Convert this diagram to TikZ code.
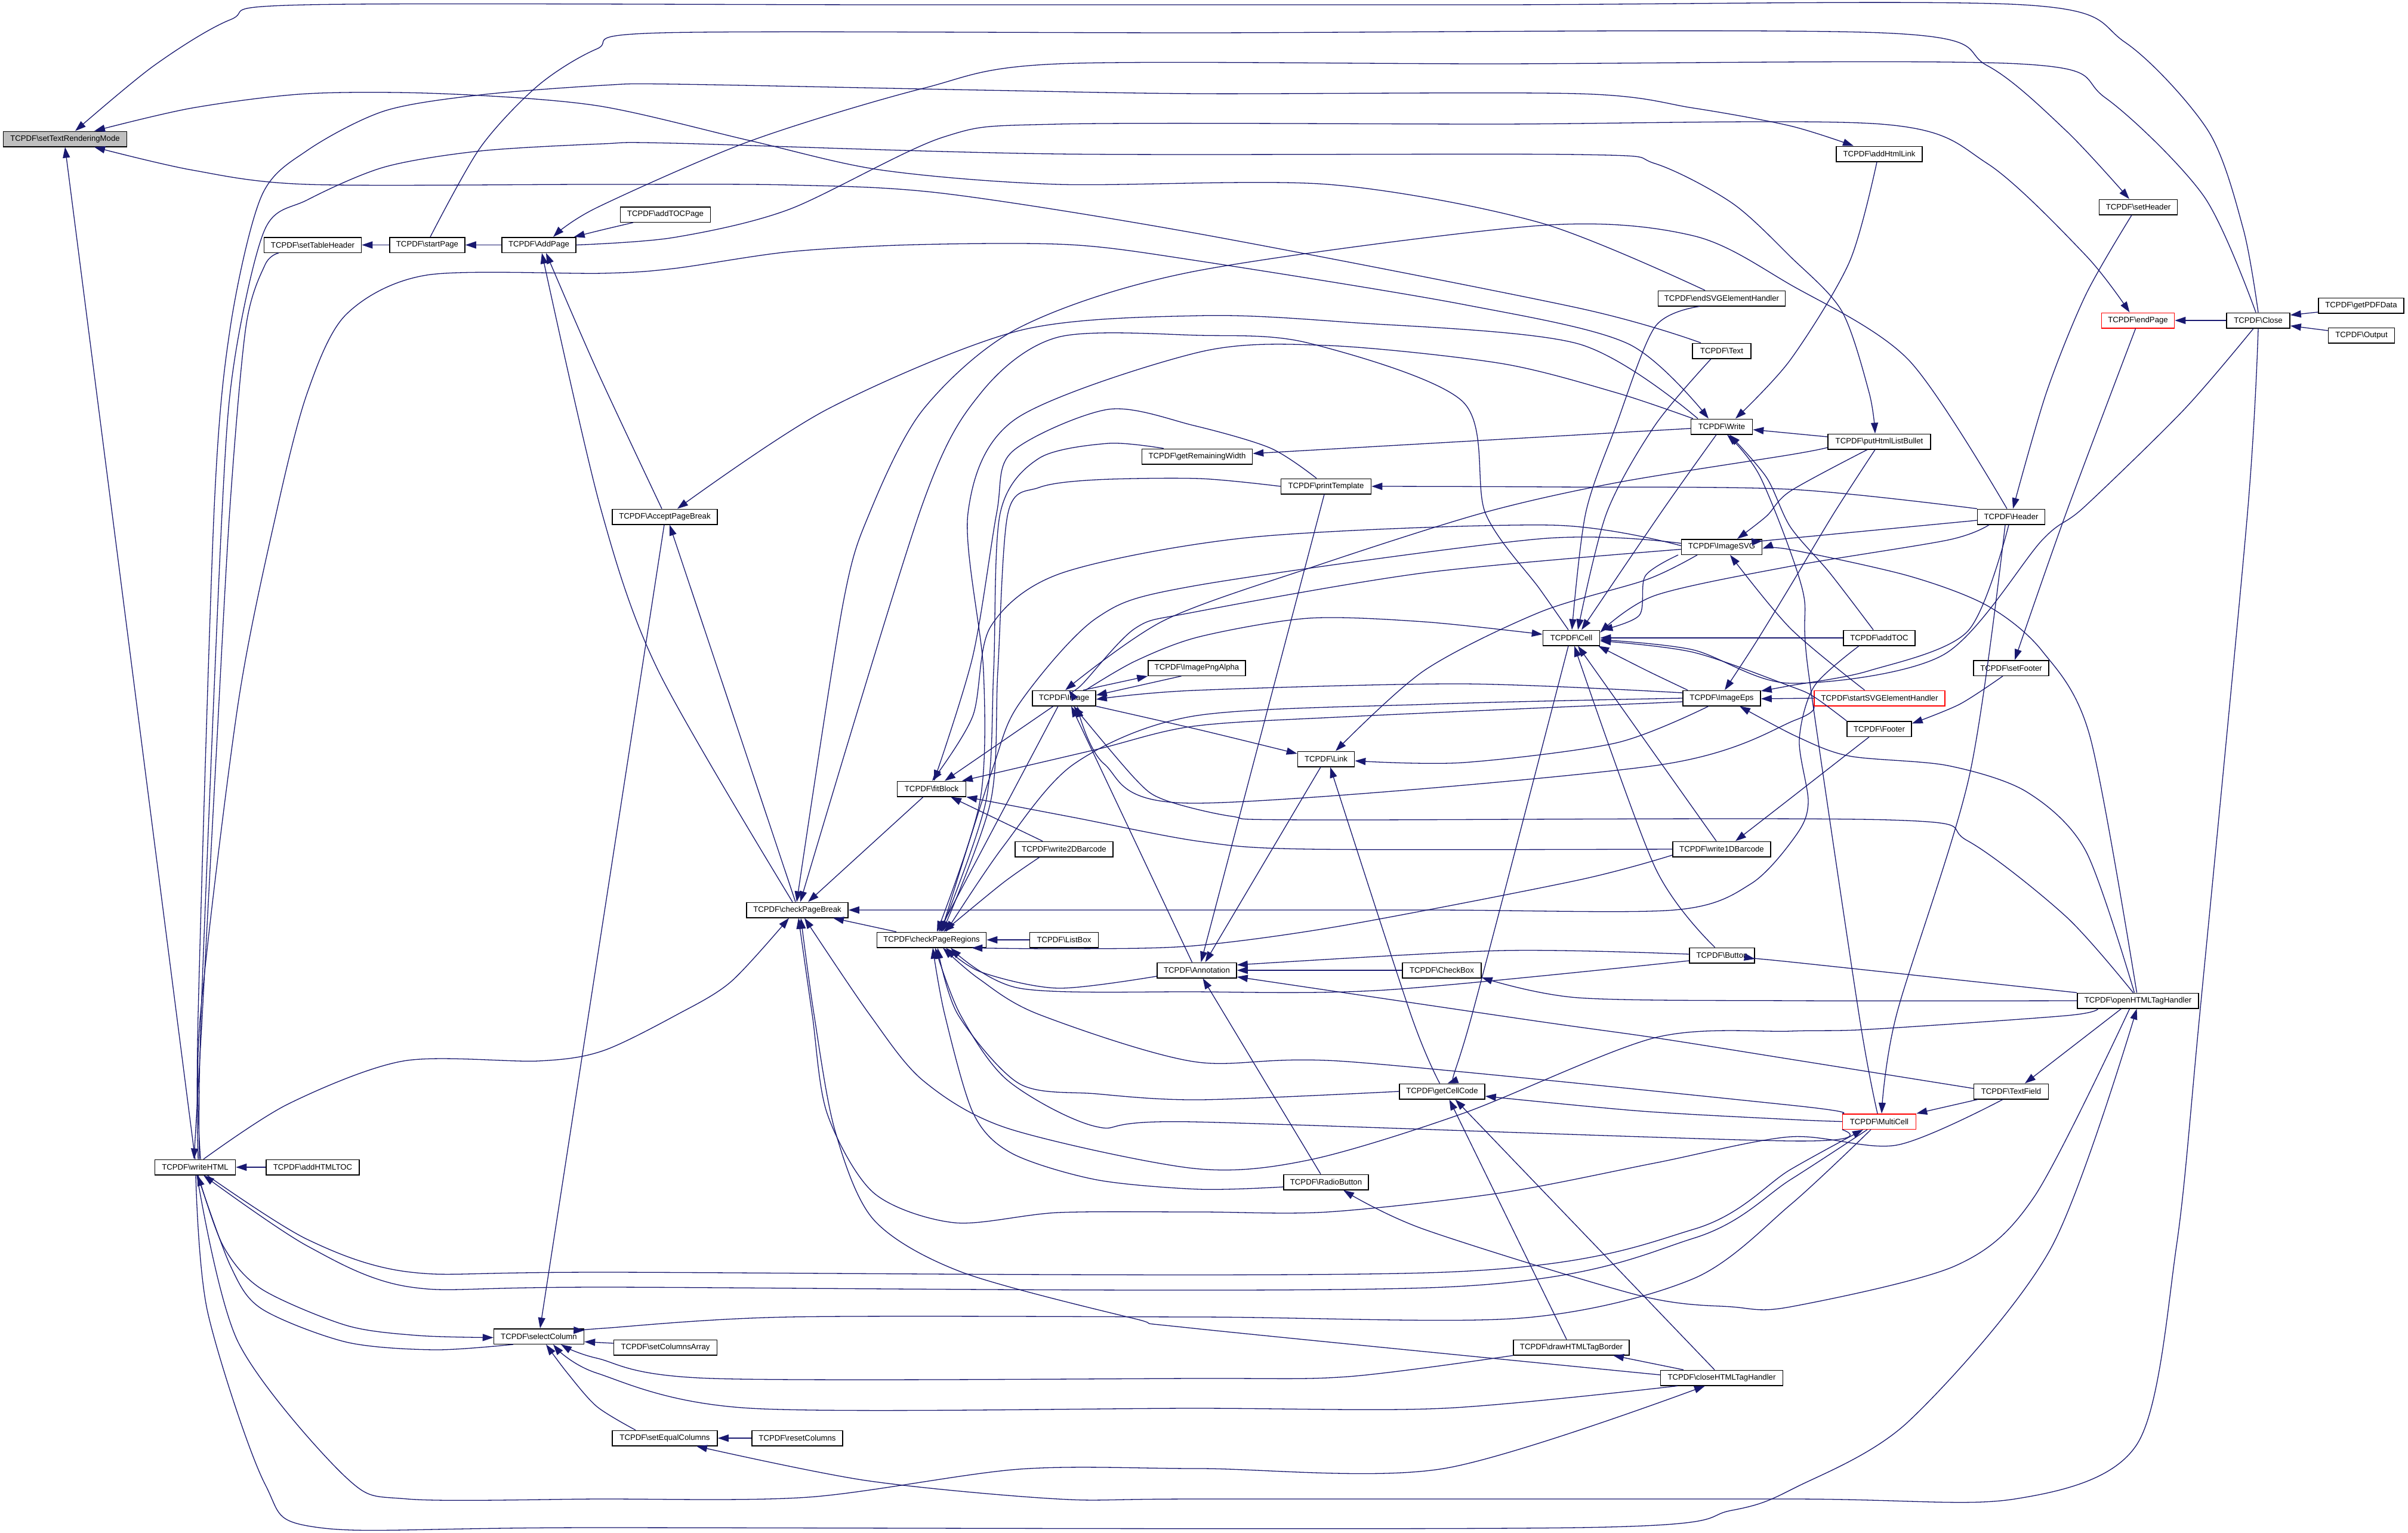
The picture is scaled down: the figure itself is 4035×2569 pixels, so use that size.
\documentclass[tikz,border=0pt]{standalone}
\usepackage{fontspec}
\setmainfont{Liberation Sans}
\usetikzlibrary{arrows.meta}
\definecolor{eb}{HTML}{191970}
\definecolor{gry}{HTML}{BFBFBF}
\newcommand\tcp[1]{TCPDF\textbackslash #1}
\newcommand\myedge[1]{\draw[e] plot[smooth,tension=0.5] coordinates {#1};}
\tikzset{
 fn/.style={draw=black,line width=1.5pt,fill=white,inner sep=0pt,minimum height=25.5pt,font=\fontsize{13.2}{15}\selectfont},
 fnr/.style={fn,draw=red},
 e/.style={draw=eb,line width=1.3pt,-{Triangle[length=18pt,width=12pt]}},
}
\begin{document}
\begin{tikzpicture}[x=1pt,y=-1pt]
\fill[white] (0,0) rectangle (4035,2569);
\useasboundingbox (0,0) rectangle (4035,2569);
% nodes
\node[fn,minimum width=207pt,fill=gry] (stm) at (109,233) {\tcp{setTextRenderingMode}};
\node[fn,minimum width=135pt] (writeHTML) at (327,1956) {\tcp{writeHTML}};
\node[fn,minimum width=156pt] (addHTMLTOC) at (524,1956) {\tcp{addHTMLTOC}};
\node[fn,minimum width=163pt] (setTableHeader) at (524,410.5) {\tcp{setTableHeader}};
\node[fn,minimum width=126pt] (startPage) at (716,410.5) {\tcp{startPage}};
\node[fn,minimum width=124pt] (AddPage) at (903,410.5) {\tcp{AddPage}};
\node[fn,minimum width=151pt] (selectColumn) at (903,2239.5) {\tcp{selectColumn}};
\node[fn,minimum width=151pt] (addTOCPage) at (1115,359.5) {\tcp{addTOCPage}};
\node[fn,minimum width=176pt] (AcceptPageBreak) at (1114,866) {\tcp{AcceptPageBreak}};
\node[fn,minimum width=173pt] (setColumnsArray) at (1115,2258) {\tcp{setColumnsArray}};
\node[fn,minimum width=176pt] (setEqualColumns) at (1114,2410) {\tcp{setEqualColumns}};
\node[fn,minimum width=170pt] (checkPageBreak) at (1336,1525) {\tcp{checkPageBreak}};
\node[fn,minimum width=152pt] (resetColumns) at (1336,2410) {\tcp{resetColumns}};
\node[fn,minimum width=115pt] (fitBlock) at (1561,1322) {\tcp{fitBlock}};
\node[fn,minimum width=183pt] (checkPageRegions) at (1561,1575) {\tcp{checkPageRegions}};
\node[fn,minimum width=106pt] (Image) at (1783,1170) {\tcp{Image}};
\node[fn,minimum width=164pt] (write2DBarcode) at (1783,1423) {\tcp{write2DBarcode}};
\node[fn,minimum width=115pt] (ListBox) at (1783,1575) {\tcp{ListBox}};
\node[fn,minimum width=163pt] (ImagePngAlpha) at (2005.5,1119.5) {\tcp{ImagePngAlpha}};
\node[fn,minimum width=185pt] (getRemainingWidth) at (2006,765) {\tcp{getRemainingWidth}};
\node[fn,minimum width=133pt] (Annotation) at (2005.5,1626) {\tcp{Annotation}};
\node[fn,minimum width=151pt] (printTemplate) at (2222,815) {\tcp{printTemplate}};
\node[fn,minimum width=95pt] (Link) at (2222,1272) {\tcp{Link}};
\node[fn,minimum width=142pt] (RadioButton) at (2222,1981) {\tcp{RadioButton}};
\node[fn,minimum width=132pt] (CheckBox) at (2416,1626) {\tcp{CheckBox}};
\node[fn,minimum width=143pt] (getCellCode) at (2416.5,1829) {\tcp{getCellCode}};
\node[fn,minimum width=95pt] (Cell) at (2633,1069) {\tcp{Cell}};
\node[fn,minimum width=194pt] (drawHTMLTagBorder) at (2633,2258) {\tcp{drawHTMLTagBorder}};
\node[fn,minimum width=213pt] (endSVG) at (2885,500) {\tcp{endSVGElementHandler}};
\node[fn,minimum width=98pt] (Text) at (2885,588) {\tcp{Text}};
\node[fn,minimum width=103pt] (Write) at (2885,715) {\tcp{Write}};
\node[fn,minimum width=135pt] (ImageSVG) at (2885,916.5) {\tcp{ImageSVG}};
\node[fn,minimum width=130pt] (ImageEps) at (2885,1170) {\tcp{ImageEps}};
\node[fn,minimum width=164pt] (write1DBarcode) at (2885,1423) {\tcp{write1DBarcode}};
\node[fn,minimum width=109pt] (Button) at (2885.5,1601) {\tcp{Button}};
\node[fn,minimum width=205pt] (closeHTMLTagHandler) at (2885,2309) {\tcp{closeHTMLTagHandler}};
\node[fn,minimum width=144pt] (addHtmlLink) at (3149,258) {\tcp{addHtmlLink}};
\node[fn,minimum width=172pt] (putHtmlListBullet) at (3149,740) {\tcp{putHtmlListBullet}};
\node[fn,minimum width=120pt] (addTOC) at (3149,1069) {\tcp{addTOC}};
\node[fnr,minimum width=219pt] (startSVG) at (3149.5,1170) {\tcp{startSVGElementHandler}};
\node[fn,minimum width=108pt] (Footer) at (3149,1221.5) {\tcp{Footer}};
\node[fnr,minimum width=123pt] (MultiCell) at (3149,1879.5) {\tcp{MultiCell}};
\node[fn,minimum width=113pt] (Header) at (3370,866) {\tcp{Header}};
\node[fn,minimum width=126pt] (setFooter) at (3370,1119.5) {\tcp{setFooter}};
\node[fn,minimum width=125pt] (TextField) at (3370,1829) {\tcp{TextField}};
\node[fn,minimum width=131pt] (setHeader) at (3583,347) {\tcp{setHeader}};
\node[fnr,minimum width=122pt] (endPage) at (3582.5,537) {\tcp{endPage}};
\node[fn,minimum width=203pt] (openHTMLTagHandler) at (3582.5,1677) {\tcp{openHTMLTagHandler}};
\node[fn,minimum width=106pt] (Close) at (3784,537) {\tcp{Close}};
\node[fn,minimum width=143pt] (getPDFData) at (3956.5,512) {\tcp{getPDFData}};
\node[fn,minimum width=111pt] (Output) at (3957,562) {\tcp{Output}};
% ---- edges into setTextRenderingMode
\myedge{(Close.north) (3759,384) (3700,219) (3561,71) (3389,8) (2500,8) (1500,8) (515,8) (386,33) (258,110) ([xshift=17pt]stm.north)}
\myedge{([xshift=-28pt]endSVG.north) (2580,373) (2225,309) (1773,309) (1477,285) (1258,236) (1000,177) (741,157) (515,157) (322,181) ([xshift=49pt]stm.north)}
\myedge{([xshift=-35pt]Text.north) (2644,516) (2010,392) (1580,324) (1322,310) (1000,309) (515,309) (322,285) ([xshift=49pt]stm.south)}
\draw[e] (writeHTML.north) -- (stm.south);
% ---- writeHTML
\myedge{([xshift=-57pt]setTableHeader.south) (444,444) (412,548) (385,855) (361,1289) (339,1700) ([xshift=-2pt]writeHTML.north)}
\draw[e] (addHTMLTOC.west) -- (writeHTML.east);
\myedge{([xshift=5pt]writeHTML.north) (332,1700) (359,850) (386,548) (438,329) (515,252) (644,186) (805,159) (1010,143) (1129,141) (1644,151) (2010,157) (2644,157) (2837,181) (3000,211) ([xshift=-43pt]addHtmlLink.north)}
\myedge{([xshift=7pt]writeHTML.north) (337,1700) (372,860) (393,603) (444,384) (515,335) (644,280) (805,253) (1010,241) (1129,240) (1773,258) (2644,259) (2773,274) (2902,340) (3000,430) (3086,521) (3132,658) ([xshift=-7pt]putHtmlListBullet.north)}
\myedge{([xshift=9pt]writeHTML.north) (335,1710) (399,1179) (464,855) (515,658) (580,527) (715,461) (1010,458) (1129,450) (1322,422) (1535,410) (1792,410) (2000,436) (2451,510) (2728,576) ([xshift=-22pt]Write.north)}
\myedge{([xshift=14pt]writeHTML.north) (483,1850) (676,1778) (902,1778) (1010,1761) (1135,1700) (1225,1645) ([xshift=-14pt]checkPageBreak.south)}
\myedge{([xshift=5pt]writeHTML.south) (374,2088) (438,2160) (580,2221) (700,2238) ([yshift=-2pt]selectColumn.west)}
\myedge{([xshift=-43pt]selectColumn.south) (728,2262) (580,2249) (438,2193) (386,2121) ([xshift=4pt]writeHTML.south)}
\myedge{([xshift=20pt]writeHTML.south) (515,2077) (689,2132) (1010,2132) (2419,2132) (2838,2060) (3000,1960) ([xshift=-27pt]MultiCell.south)}
\myedge{([xshift=-20pt]MultiCell.south) (3000,1977) (2838,2075) (2419,2157) (1010,2157) (689,2157) (515,2088) ([xshift=14pt]writeHTML.south)}
\myedge{([xshift=3pt]writeHTML.south) (399,2249) (580,2476) (683,2512) (1000,2512) (1354,2509) (1708,2462) (2010,2461) (2419,2461) ([xshift=-28pt]closeHTMLTagHandler.south)}
\myedge{([xshift=1pt]writeHTML.south) (348,2199) (444,2487) (535,2560) (1000,2560) (2644,2560) (2902,2531) (3010,2492) (3198,2382) (3436,2093) ([xshift=-2pt]openHTMLTagHandler.south)}
% ---- selectColumn
\myedge{([xshift=-14pt]MultiCell.south) (3000,2019) (2837,2143) (2547,2209) (2010,2207) (1322,2207) (1010,2226) ([yshift=10pt]selectColumn.east)}
\draw[e] ([yshift=7pt]setColumnsArray.west) -- ([yshift=-9pt]selectColumn.east);
\myedge{([xshift=-49pt]setEqualColumns.north) (1000,2357) (950,2300) ([xshift=12pt]selectColumn.south)}
\myedge{(drawHTMLTagBorder.south west) (2258,2307) (2000,2310) (1193,2310) (1000,2276) ([xshift=37pt]selectColumn.south)}
\myedge{([xshift=-74pt]closeHTMLTagHandler.south) (2419,2360) (2000,2360) (1258,2360) (1000,2301) ([xshift=24pt]selectColumn.south)}
\draw[e] ([xshift=-1pt]AcceptPageBreak.south) -- ([xshift=2pt]selectColumn.north);
\draw[e] (resetColumns.west) -- (setEqualColumns.east);
\myedge{(Close.south) (3766,860) (3686,1700) (3647,2088) (3581,2420) (3376,2512) (3000,2512) (2010,2512) (1773,2512) (1451,2481) ([xshift=53pt]setEqualColumns.south)}
% ---- top chain
\draw[e] (startPage.west) -- (setTableHeader.east);
\draw[e] (AddPage.west) -- (startPage.east);
\myedge{([xshift=5pt]startPage.north) (805,247) (902,143) (1000,82) (1110,55) (2000,55) (3152,55) (3330,110) (3462,219) ([xshift=-15pt]setHeader.north)}
\myedge{([xshift=-54pt]addTOCPage.south) (1010,385) ([xshift=-4pt]AddPage.north east)}
\myedge{([xshift=-4pt]Close.north) (3693,329) (3528,164) (3383,107) (2500,107) (1773,107) (1547,148) (1258,236) (1000,348) ([xshift=24pt]AddPage.north)}
\myedge{(AddPage.east) (1129,398) (1322,351) (1580,230) (1773,208) (2500,208) (3152,208) (3330,274) (3495,428) ([xshift=-14pt]endPage.north)}
\draw[e] (Close.west) -- (endPage.east);
\draw[e] ([yshift=-11pt]getPDFData.west) -- ([yshift=9pt]Close.east);
\draw[e] ([yshift=8pt]Output.west) -- ([yshift=-9pt]Close.east);
\myedge{([xshift=-5pt]AcceptPageBreak.north) (1000,620) ([xshift=12pt]AddPage.south)}
\myedge{([xshift=-8pt]checkPageBreak.north) (1103,1124) (1006,850) ([xshift=5pt]AddPage.south)}
\draw[e] ([xshift=-3pt]checkPageBreak.north) -- ([xshift=8pt]AcceptPageBreak.south);
\myedge{([xshift=-40pt]Write.north) (2644,576) (2258,540) (2010,529) (1708,554) (1386,686) ([xshift=21pt]AcceptPageBreak.north)}
% ---- checkPageBreak
\myedge{([xshift=-67pt]openHTMLTagHandler.south) (3462,1702) (3132,1725) (3000,1728) (2773,1739) (2451,1866) (2193,1944) (2000,1958) (1689,1891) (1547,1811) (1457,1700) ([xshift=12pt]checkPageBreak.south)}
\myedge{([xshift=-14pt]TextField.south) (3178,1919) (3000,1905) (2773,1949) (2515,1999) (2225,2031) (2010,2031) (1773,2032) (1599,2049) (1464,1999) (1386,1866) (1361,1700) ([xshift=2pt]checkPageBreak.south)}
\myedge{([yshift=5pt]closeHTMLTagHandler.west) (2000,2226) (1902,2210) (1612,2132) (1464,2044) (1399,1894) (1364,1700) ([xshift=6pt]checkPageBreak.south)}
\myedge{([xshift=-34pt]addTOC.south) (3040,1150) (3015,1240) (3030,1344) (3010,1399) (2934,1481) (2805,1525) (2400,1525) (1800,1525) (checkPageBreak.east)}
\myedge{([xshift=-7pt]Header.north) (3198,603) (3000,477) (2837,395) (2580,378) (2000,455) (1708,549) (1547,686) (1457,860) (1412,1015) ([xshift=-1pt]checkPageBreak.north)}
\myedge{([xshift=-5pt]Cell.north) (2580,987) (2489,860) (2451,673) (2193,575) (2010,562) (1773,565) (1644,658) (1544,850) ([xshift=5pt]checkPageBreak.north)}
\draw[e] ([xshift=-14pt]fitBlock.south) -- ([xshift=18pt]checkPageBreak.north);
\draw[e] ([xshift=-59pt]checkPageRegions.north) -- ([xshift=60pt]checkPageBreak.south);
% ---- checkPageRegions / fitBlock
\draw[e] (ListBox.west) -- (checkPageRegions.east);
\draw[e] ([xshift=-10pt]Image.south) -- ([xshift=12pt]checkPageRegions.north);
\draw[e] ([xshift=-18pt]Image.south) -- ([xshift=22pt]fitBlock.north);
\draw[e] ([xshift=-36pt]write2DBarcode.north) -- ([xshift=32pt]fitBlock.south);
\myedge{([xshift=-41pt]write2DBarcode.south) (1680,1480) ([xshift=20pt]checkPageRegions.north)}
\myedge{([xshift=-56pt]getRemainingWidth.north) (1857,743) (1741,768) (1676,860) (1665,1124) (1652,1343) ([xshift=15pt]checkPageRegions.north)}
\myedge{([xshift=-16pt]printTemplate.north) (2129,751) (2000,713) (1857,686) (1696,757) (1670,860) (1630,1100) ([xshift=4pt]fitBlock.north)}
\myedge{(printTemplate.west) (2010,802) (1837,804) (1741,817) (1689,860) (1672,1124) (1660,1343) ([xshift=18pt]checkPageRegions.north)}
\myedge{([xshift=-48pt]Write.north) (2708,658) (2515,609) (2225,579) (2010,590) (1702,702) (1622,860) (1648,1124) (1642,1343) ([xshift=9pt]checkPageRegions.north)}
\myedge{([yshift=-6pt]ImageEps.west) (2258,1201) (2000,1217) (1837,1256) ([xshift=51pt]fitBlock.north)}
\myedge{(write1DBarcode.west) (2193,1423) (2010,1410) (1800,1370) (fitBlock.south east)}
\myedge{([yshift=-10pt]write1DBarcode.west) (2644,1475) (2245,1552) (2000,1585) (1800,1590) ([xshift=-25pt]checkPageRegions.south east)}
\myedge{([yshift=-9pt]Button.west) (2322,1659) (2000,1662) (1708,1656) ([xshift=32pt]checkPageRegions.south)}
\myedge{(MultiCell.north west) (3000,1852) (2258,1779) (2000,1779) (1741,1700) (1640,1640) ([xshift=19pt]checkPageRegions.south)}
\myedge{(getCellCode.west) (2010,1843) (1837,1833) (1708,1816) (1605,1700) ([xshift=10pt]checkPageRegions.south)}
\myedge{([yshift=-8pt]RadioButton.west) (2010,1993) (1837,1977) (1696,1933) (1631,1866) (1583,1700) ([xshift=2pt]checkPageRegions.south)}
\myedge{(MultiCell.south west) (3000,1912) (2000,1880) (1837,1888) (1689,1811) (1609,1700) ([xshift=6pt]checkPageRegions.south)}
\myedge{([yshift=-10pt]Annotation.west) (1773,1656) (1644,1629) ([xshift=24pt]checkPageRegions.south)}
\myedge{([yshift=6pt]ImageSVG.west) (2580,903) (2000,982) (1837,1036) (1708,1179) (1663,1289) ([xshift=16pt]checkPageRegions.north)}
\myedge{(ImageEps.west) (2400,1180) (2000,1200) (1800,1280) (1680,1420) ([xshift=24pt]checkPageRegions.north)}
\myedge{([yshift=2pt]ImageSVG.west) (2600,880) (2100,900) (1780,960) (1660,1050) (1630,1200) ([xshift=1pt]fitBlock.north)}
% ---- Image
\draw[e] ([xshift=-26pt]ImagePngAlpha.south) -- ([yshift=5pt]Image.east);
\draw[e] ([xshift=32pt]Image.north) -- (ImagePngAlpha.south west);
\myedge{(Image.south east) (2010,1223) ([yshift=9pt]Link.west)}
\myedge{([xshift=36pt]Image.north) (1902,1108) (2010,1067) (2193,1036) (2386,1042) ([yshift=6pt]Cell.west)}
\myedge{([yshift=-4pt]ImageSVG.west) (2386,960) (2000,1026) (1902,1053) (1811,1149) ([xshift=8pt]Image.north)}
\myedge{([yshift=9pt]ImageEps.west) (2451,1146) (2000,1157) ([yshift=-2pt]Image.east)}
\myedge{([yshift=-10pt]putHtmlListBullet.west) (3000,762) (2708,809) (2483,860) (2200,950) (1950,1040) ([xshift=2pt]Image.north)}
\myedge{(startSVG.south west) (3010,1206) (2773,1283) (2000,1346) (1850,1280) ([xshift=22pt]Image.south)}
\myedge{([xshift=-8pt]openHTMLTagHandler.north) (3462,1536) (3297,1409) (3165,1374) (2193,1374) (2064,1368) (1950,1340) (1902,1305) ([xshift=16pt]Image.south)}
\draw[e] ([xshift=-8pt]Annotation.north) -- ([xshift=12pt]Image.south);
% ---- Link / Annotation
\draw[e] ([xshift=-9pt]Link.south) -- ([xshift=14pt]Annotation.north);
\draw[e] ([xshift=-3pt]printTemplate.south) -- ([xshift=7pt]Annotation.north);
\myedge{([xshift=-41pt]ImageSVG.south) (2760,971) (2580,1026) (2386,1124) ([xshift=16pt]Link.north)}
\myedge{([xshift=-22pt]ImageEps.south) (2708,1245) (2451,1278) ([yshift=-3pt]Link.east)}
\myedge{([xshift=-4pt]getCellCode.north) (2364,1700) ([xshift=7pt]Link.south)}
\draw[e] (CheckBox.west) -- (Annotation.east);
\myedge{([yshift=2pt]Button.west) (2515,1593) ([yshift=9pt]Annotation.east)}
\myedge{([yshift=5pt]TextField.west) (3000,1775) (2773,1739) (2567,1710) ([yshift=-11pt]Annotation.east)}
\draw[e] ([xshift=-9pt]RadioButton.north) -- ([xshift=10pt]Annotation.south);
% ---- getCellCode
\myedge{([xshift=-5pt]Cell.south) (2464,1710) ([xshift=9pt]getCellCode.north)}
\myedge{(MultiCell.west) (3000,1876) (2750,1862) ([yshift=-8pt]getCellCode.east)}
\draw[e] ([xshift=-8pt]drawHTMLTagBorder.north) -- ([xshift=12pt]getCellCode.south);
\draw[e] ([xshift=-12pt]closeHTMLTagHandler.north) -- ([xshift=22pt]getCellCode.south);
\draw[e] ([xshift=-64pt]closeHTMLTagHandler.north) -- ([xshift=70pt]drawHTMLTagBorder.south);
% ---- Cell
\myedge{([xshift=-37pt]endSVG.south) (2773,548) (2708,713) (2657,860) ([xshift=1pt]Cell.north)}
\myedge{([xshift=-18pt]Text.south) (2773,713) (2692,860) ([xshift=11pt]Cell.north)}
\myedge{([xshift=-9pt]Write.south) (2786,855) ([xshift=17pt]Cell.north)}
\draw[e] (addTOC.west) -- (Cell.east);
\myedge{([xshift=-57pt]ImageEps.north) (2760,1124) ([xshift=-3pt]Cell.south east)}
\myedge{([xshift=-73pt]ImageSVG.south) (2757,965) (2747,1031) ([xshift=3pt]Cell.north east)}
\myedge{([xshift=-37pt]Header.south) (3264,905) (3000,949) (2773,998) ([yshift=9pt]Cell.east)}
\myedge{([xshift=-8pt]Close.south) (3660,686) (3492,850) (3422,905) (3257,1097) (3000,1145) (2837,1089) ([yshift=-3pt]Cell.east)}
\myedge{(Footer.north west) (3040,1168) (3000,1150) (2837,1093) ([yshift=-5pt]Cell.east)}
\draw[e] ([xshift=-9pt]write1DBarcode.north) -- ([xshift=11pt]Cell.south);
\myedge{([xshift=-12pt]Button.north) (2773,1453) ([xshift=5pt]Cell.south)}
% ---- Write and others
\draw[e] ([yshift=-3pt]Write.west) -- ([yshift=5pt]getRemainingWidth.east);
\myedge{([xshift=-4pt]addHtmlLink.south) (3099,439) (3000,603) ([xshift=23pt]Write.north)}
\draw[e] ([yshift=8pt]putHtmlListBullet.west) -- ([yshift=-5pt]Write.east);
\myedge{([xshift=-10pt]addTOC.north) (3066,960) (3000,883) (2960,800) ([xshift=13pt]Write.south)}
\myedge{([xshift=-3pt]MultiCell.north) (3115,1700) (3030,1124) (3020,987) (2950,800) ([xshift=9pt]Write.south)}
\myedge{([xshift=-57pt]Header.north) (3000,820) (2600,816) (printTemplate.east)}
\myedge{([xshift=-11pt]setHeader.south) (3495,494) (3429,658) ([xshift=3pt]Header.north)}
\myedge{([yshift=-6pt]Header.west) (3000,902) ([yshift=10pt]ImageSVG.east)}
\myedge{([xshift=-4pt]Header.south) (3297,1058) (3132,1124) (3000,1149) ([yshift=12pt]ImageEps.east)}
\myedge{([xshift=-10pt]Header.south) (3300,1300) (3178,1700) ([xshift=4pt]MultiCell.north)}
\myedge{([xshift=-4pt]endPage.south) (3462,860) ([xshift=6pt]setFooter.north)}
\myedge{([xshift=-14pt]setFooter.south) (3284,1180) ([yshift=9pt]Footer.east)}
\myedge{([xshift=-17pt]Footer.south) (3000,1338) ([xshift=23pt]write1DBarcode.north)}
\myedge{([xshift=-25pt]startSVG.north) (3000,1053) ([xshift=14pt]ImageSVG.south)}
\myedge{([xshift=-20pt]putHtmlListBullet.south) (3000,823) (2960,865) ([xshift=26pt]ImageSVG.north)}
\myedge{([xshift=-7pt]putHtmlListBullet.south) (3073,860) (3000,982) (2940,1080) ([xshift=5pt]ImageEps.north)}
\draw[e] (startSVG.west) -- ([yshift=-1pt]ImageEps.east);
% ---- openHTMLTagHandler
\myedge{([xshift=-6pt]openHTMLTagHandler.north) (3495,1426) (3396,1327) (3264,1283) (3099,1267) (3010,1234) ([xshift=30pt]ImageEps.south)}
\myedge{([xshift=-2pt]openHTMLTagHandler.north) (3502,1234) (3422,1091) (3330,1015) (3198,965) (3000,921) ([yshift=-3pt]ImageSVG.east)}
\myedge{(openHTMLTagHandler.north west) (3000,1612) ([yshift=-6pt]Button.east)}
\myedge{(openHTMLTagHandler.west) (3010,1677) (2644,1672) ([yshift=-12pt]CheckBox.east)}
\draw[e] ([xshift=-28pt]openHTMLTagHandler.south) -- ([xshift=23pt]TextField.north);
\myedge{([xshift=-14pt]openHTMLTagHandler.south) (3409,2005) (3277,2121) (3000,2190) (2902,2190) (2747,2171) (2386,2060) ([xshift=29pt]RadioButton.south)}
\draw[e] ([xshift=-56pt]TextField.south) -- (MultiCell.north east);
\end{tikzpicture}
\end{document}
